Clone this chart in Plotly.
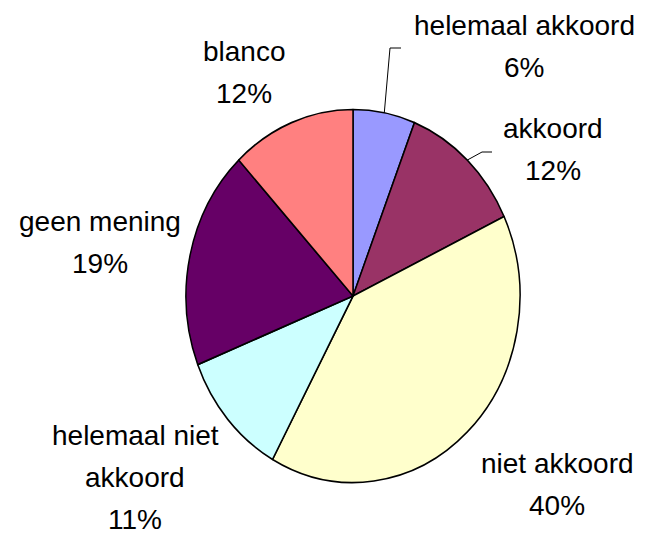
import math
import plotly.graph_objects as go

categories = ["helemaal akkoord", "akkoord", "niet akkoord",
              "helemaal niet akkoord", "geen mening", "blanco"]
values = [6, 12, 40, 11, 19, 12]
colors = ["#9999FF", "#993366", "#FFFFCC", "#CCFFFF", "#660066", "#FF8080"]
# label lines as shown in the chart
label_lines = [["helemaal akkoord", "6%"], ["akkoord", "12%"],
               ["niet akkoord", "40%"], ["helemaal niet", "akkoord", "11%"],
               ["geen mening", "19%"], ["blanco", "12%"]]

W, H = 645, 534
CX, CY, R = 353, 296, 177      # pie centre / drawing radius in pixels
RX, RY = 167, 186.5            # displayed (stretched) radii as in the reference

# label anchor: horizontal centre and baseline of first line (pixels)
label_pos = [(524, 35), (553, 138), (557, 473), (135, 445), (100, 231), (244, 61)]
LINE_STEP = 42
FS = 28

fig = go.Figure(go.Pie(
    labels=categories, values=values, sort=False, direction="clockwise",
    rotation=0, textinfo="none", hoverinfo="label+percent",
    marker=dict(colors=colors, line=dict(color="black", width=1.6)),
    domain=dict(x=[(CX - R) / W, (CX + R) / W],
                y=[(H - CY - R) / H, (H - CY + R) / H]),
    showlegend=False,
))

def px(x):
    return x / W

def py(y):
    return 1 - y / H

anns = []
for lines, (cx, base) in zip(label_lines, label_pos):
    for i, t in enumerate(lines):
        b = base + i * LINE_STEP
        anns.append(dict(text=t, x=px(cx), y=py(b - 0.3465 * FS), xref="paper",
                         yref="paper", xanchor="center", yanchor="middle",
                         showarrow=False,
                         font=dict(family="Liberation Sans, Arial, sans-serif",
                                   size=FS, color="black")))

# leader lines for the two small slices, starting at the slice mid-angle on the edge
total = sum(values)
cum = 0
mids = []
for v in values:
    mids.append((cum + v / 2) / total * 2 * math.pi)
    cum += v
shapes = []
leader_ends = {0: [(390, 48), (401, 48)], 1: [(482, 152), (492, 152)]}
for idx, pts in leader_ends.items():
    a = mids[idx]
    sx, sy = CX + RX * math.sin(a), CY - RY * math.cos(a)
    path = f"M{px(sx)},{py(sy)}" + "".join(f" L{px(x)},{py(y)}" for x, y in pts)
    shapes.append(dict(type="path", path=path, xref="paper", yref="paper",
                       line=dict(color="black", width=1)))

fig.update_layout(width=W, height=H, margin=dict(l=0, r=0, t=0, b=0),
                  paper_bgcolor="white", plot_bgcolor="white",
                  annotations=anns, shapes=shapes)

sx_, sy_ = RX / R, RY / R
post = ("document.body.style.margin='0';document.body.style.overflow='hidden';"
        "var pl=document.querySelector('.pielayer');"
        f"if(pl){{pl.setAttribute('transform','translate({CX},{CY}) scale({sx_:.4f},{sy_:.4f}) translate({-CX},{-CY})');}}")
fig.write_html("out.html", post_script=post, config={"displayModeBar": False})
